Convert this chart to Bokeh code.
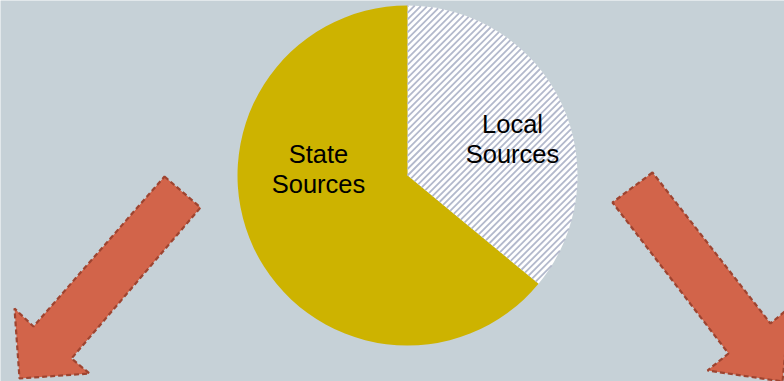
from bokeh.plotting import figure
from bokeh.models import Range1d, ColumnDataSource
from bokeh.core.properties import value
from bokeh.embed import file_html
from bokeh.resources import INLINE
import math

# Data
categories = ["Local Sources", "State Sources"]
shares = [0.36, 0.64]
label_lines = [["Local", "Sources"], ["State", "Sources"]]

# arrow outlines (decoration), image-pixel coordinates
left_arrow_x = [164, 200, 71, 89, 19, 14, 33]
left_arrow_y = [176, 207, 358, 373, 378, 308, 326]
right_arrow_x = [652, 612, 728, 707, 782, 789, 770]
right_arrow_y = [172, 202, 353, 370, 381, 307, 323]

W, H = 784, 381
BG = "#C6D1D7"
GOLD = "#CDB300"
HATCH = "#B3B9CC"
ARROW = "#D2644A"
ARROW_LINE = "#9E4430"

p = figure(width=W, height=H, output_backend="svg", toolbar_location=None,
           x_range=Range1d(0, W), y_range=Range1d(0, H), min_border=0,
           background_fill_color=BG, border_fill_color=BG, outline_line_color=None)
p.axis.visible = False
p.grid.visible = False

cx, cy, r = 407, H - 175, 170

# slices: start at 12 o'clock, go clockwise
start = math.pi / 2
starts, ends = [], []
for s in shares:
    span = s * 2 * math.pi
    ends.append(start)
    starts.append(start - span)
    start -= span

src = ColumnDataSource(dict(cat=categories, start=starts, end=ends,
                            fill=["#FFFFFF", GOLD]))
p.wedge(x=cx, y=cy, radius=r, start_angle="start", end_angle="end",
        direction="anticlock", source=src, fill_color="fill", line_color=None)

# diagonal hatch for the Local Sources slice (clipped to its sector)
a0, a1 = starts[0], ends[0]
ua = (math.cos(a0), math.sin(a0))
ub = (math.cos(a1), math.sin(a1))
d = (1 / math.sqrt(2), 1 / math.sqrt(2))
n = (-d[1], d[0])
spacing = 4.6
hx, hy = [], []
k = -int(r / spacing) - 2
while k * spacing <= r + spacing:
    off = k * spacing
    p0 = (cx + n[0] * off, cy + n[1] * off)
    q = (p0[0] - cx, p0[1] - cy)
    b = q[0] * d[0] + q[1] * d[1]
    cc = q[0] ** 2 + q[1] ** 2 - r * r
    disc = b * b - cc
    k += 1
    if disc <= 0:
        continue
    t0, t1 = -b - math.sqrt(disc), -b + math.sqrt(disc)
    for (f0, f1) in [
        (ua[0] * q[1] - ua[1] * q[0], ua[0] * d[1] - ua[1] * d[0]),
        (q[0] * ub[1] - q[1] * ub[0], d[0] * ub[1] - d[1] * ub[0]),
    ]:
        if abs(f1) < 1e-12:
            if f0 < 0:
                t0, t1 = 1, 0
            continue
        tt = -f0 / f1
        if f1 > 0:
            t0 = max(t0, tt)
        else:
            t1 = min(t1, tt)
    if t1 > t0:
        hx.append([p0[0] + d[0] * t0, p0[0] + d[0] * t1])
        hy.append([p0[1] + d[1] * t0, p0[1] + d[1] * t1])
p.multi_line(xs=hx, ys=hy, line_color=HATCH, line_width=1.8)

# label anchors (image px): centre x, first baseline
label_pos = [(512, 123), (318, 153)]
for (lx, by), lines in zip(label_pos, label_lines):
    ys = [H - (by + 30 * k) for k in range(len(lines))]
    p.text(x=[lx] * len(lines), y=ys, text=lines, text_align="center",
           text_baseline="alphabetic",
           text_font=value("Liberation Sans"), text_font_size="25.5px", text_color="#000000")

# arrows
for ax, ay in [(left_arrow_x, left_arrow_y), (right_arrow_x, right_arrow_y)]:
    p.patch(x=ax, y=[H - v for v in ay], fill_color=ARROW, line_color=ARROW_LINE,
            line_width=2.2, line_dash="5 3")

open("out.html", "w").write(file_html(p, INLINE))
